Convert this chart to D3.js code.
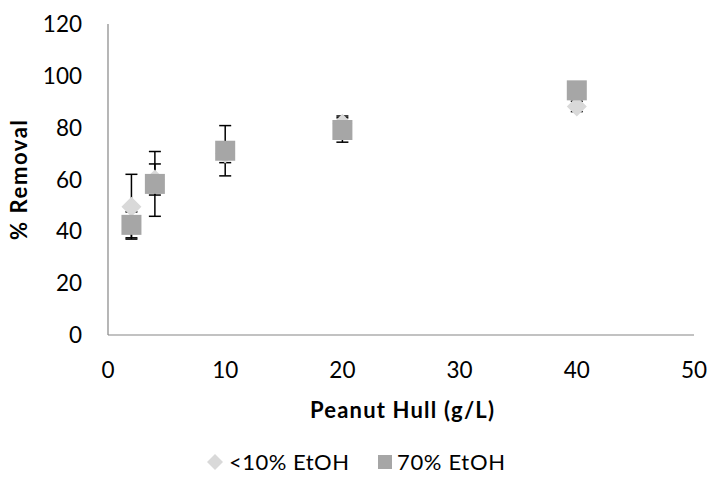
<!DOCTYPE html>
<html><head><meta charset="utf-8">
<script src="https://cdn.jsdelivr.net/npm/d3@7"></script>
<style>body{margin:0;background:#fff}</style>
</head><body><svg id="c" width="711" height="493"></svg>
<script>
const xValues = [2, 4, 10, 20, 40];
const lowEtOH = [49.5, 60, 70, 81.5, 88.2];
const lowEtOHErr = [12.5, 6, 3.5, 3, 2];
const highEtOH = [42.5, 58.3, 71.1, 79.1, 94.4];
const highEtOHErr = [5, 12.5, 9.7, 4.7, 1];
const xTicks = [0, 10, 20, 30, 40, 50];
const yTicks = [0, 20, 40, 60, 80, 100, 120];
const seriesNames = ["<10% EtOH", "70% EtOH"];

const svg = d3.select("#c");
const font = "Lato, 'Open Sans', sans-serif";
const x = d3.scaleLinear().domain([0, 50]).range([108, 694]);
const y = d3.scaleLinear().domain([0, 120]).range([335, 24]);

svg.append("line").attr("x1", x(0)).attr("x2", x(0)).attr("y1", y(120)).attr("y2", y(0)).attr("stroke", "#868686").attr("stroke-width", 1.2);
svg.append("line").attr("x1", x(0)).attr("x2", x(50)).attr("y1", y(0)).attr("y2", y(0)).attr("stroke", "#868686").attr("stroke-width", 1.2);

svg.selectAll(".yt").data(yTicks).enter().append("text")
  .attr("x", 82).attr("y", d => y(d)).attr("dy", "0.36em").attr("text-anchor", "end")
  .attr("font-family", font).attr("font-size", 22.5).attr("fill", "#000").text(d => d);
svg.selectAll(".xt").data(xTicks).enter().append("text")
  .attr("x", d => x(d)).attr("y", 370).attr("dy", "0.36em").attr("text-anchor", "middle")
  .attr("font-family", font).attr("font-size", 22.5).attr("fill", "#000").text(d => d);

svg.append("text").attr("x", 402).attr("y", 418).attr("text-anchor", "middle")
  .attr("font-family", font).attr("font-weight", "bold").attr("font-size", 22)
  .attr("textLength", 184).attr("lengthAdjust", "spacing").text("Peanut Hull (g/L)");
svg.append("text").attr("transform", "translate(27,180) rotate(-90)").attr("text-anchor", "middle")
  .attr("font-family", font).attr("font-weight", "bold").attr("font-size", 22)
  .attr("textLength", 120).attr("lengthAdjust", "spacing").text("% Removal");

function errBars(vals, errs) {
  const g = svg.append("g").attr("stroke", "#000").attr("stroke-width", 1.5);
  xValues.forEach((xv, i) => {
    const cx = x(xv), top = y(vals[i] + errs[i]), bot = y(vals[i] - errs[i]);
    g.append("line").attr("x1", cx).attr("x2", cx).attr("y1", top).attr("y2", bot);
    g.append("line").attr("x1", cx - 6).attr("x2", cx + 6).attr("y1", top).attr("y2", top);
    g.append("line").attr("x1", cx - 6).attr("x2", cx + 6).attr("y1", bot).attr("y2", bot);
  });
}
errBars(lowEtOH, lowEtOHErr);
errBars(highEtOH, highEtOHErr);

const diamond = s => `M0,${-s}L${s},0L0,${s}L${-s},0Z`;
svg.selectAll(".d").data(xValues).enter().append("path")
  .attr("d", diamond(10)).attr("transform", (d, i) => `translate(${x(d)},${y(lowEtOH[i])})`)
  .attr("fill", "#d9d9d9");
svg.selectAll(".s").data(xValues).enter().append("rect")
  .attr("x", d => x(d) - 10).attr("y", (d, i) => y(highEtOH[i]) - 10)
  .attr("width", 20).attr("height", 20).attr("fill", "#a6a6a6");

const lg = svg.append("g");
lg.append("path").attr("d", diamond(8)).attr("transform", "translate(215,462)").attr("fill", "#d9d9d9");
lg.append("text").attr("x", 229).attr("y", 462).attr("dy", "0.36em").attr("font-family", font).attr("font-size", 22)
  .attr("textLength", 120).attr("lengthAdjust", "spacing").text(seriesNames[0]);
lg.append("rect").attr("x", 378).attr("y", 455).attr("width", 14).attr("height", 14).attr("fill", "#a6a6a6");
lg.append("text").attr("x", 397).attr("y", 462).attr("dy", "0.36em").attr("font-family", font).attr("font-size", 22)
  .attr("textLength", 108).attr("lengthAdjust", "spacing").text(seriesNames[1]);
</script></body></html>
